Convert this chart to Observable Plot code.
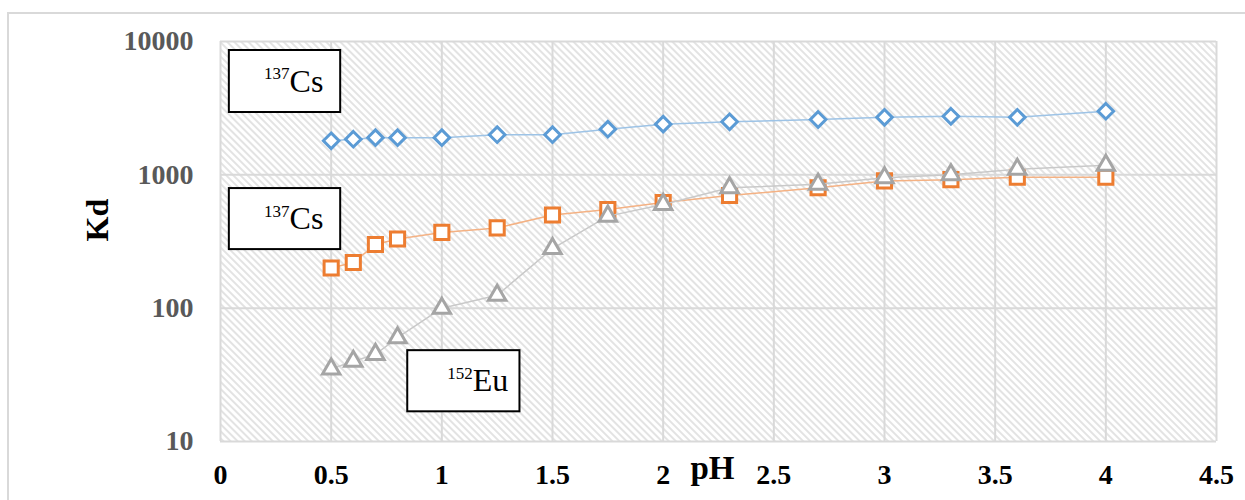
<!DOCTYPE html>
<html>
<head>
<meta charset="utf-8">
<script src="https://cdn.jsdelivr.net/npm/d3@7"></script>
<script src="https://cdn.jsdelivr.net/npm/@observablehq/plot@0.6"></script>
<style>
  body { margin: 0; background: #fff; }
  #wrap { position: relative; width: 1245px; height: 500px; overflow: hidden; }
  #border { position: absolute; left: 7px; top: 12px; width: 1260px; height: 520px; border: 2px solid #d9d9d9; box-sizing: border-box; pointer-events: none; }
</style>
</head>
<body>
<div id="wrap"><div id="border"></div></div>
<script>
// ---- data ----
const pH = [0.5, 0.6, 0.7, 0.8, 1, 1.25, 1.5, 1.75, 2, 2.3, 2.7, 3, 3.3, 3.6, 4];
const csBlue   = [1800, 1850, 1900, 1900, 1900, 2000, 2000, 2200, 2400, 2500, 2600, 2700, 2750, 2700, 3000];
const csOrange = [200, 220, 300, 330, 370, 400, 500, 550, 620, 700, 800, 900, 920, 960, 960];
const eu       = [35, 40, 45, 60, 100, 125, 280, 490, 600, 800, 850, 950, 1000, 1100, 1180];

const xTicks = [0, 0.5, 1, 1.5, 2, 2.5, 3, 3.5, 4, 4.5];
const yTicks = [10, 100, 1000, 10000];

// annotation boxes (data coordinates)
const boxIso  = ["137", "137", "152"];
const boxElem = ["Cs", "Cs", "Eu"];
const boxX1 = [0.04, 0.04, 0.846];
const boxX2 = [0.543, 0.543, 1.353];
const boxY1 = [2934, 275, 16.7];
const boxY2 = [8560, 789, 48];
const boxTx = [0.312, 0.312, 1.14];
const boxTy = [5012, 466, 28.4];

// ---- tables ----
const mk = (vals) => pH.map((x, i) => ({x, y: vals[i]}));
const blue = mk(csBlue), orange = mk(csOrange), gray = mk(eu);
const boxes = boxIso.map((iso, i) => ({iso, el: boxElem[i], x1: boxX1[i], x2: boxX2[i], y1: boxY1[i], y2: boxY2[i], tx: boxTx[i], ty: boxTy[i]}));

const font = "Liberation Serif";

const chart = Plot.plot({
  width: 1245,
  height: 500,
  marginLeft: 220,
  marginRight: 29,
  marginTop: 41,
  marginBottom: 59,
  style: {fontFamily: font, background: "transparent", overflow: "visible"},
  x: {domain: [0, 4.5]},
  y: {type: "log", domain: [10, 10000]},
  marks: [
    Plot.frame({fill: "url(#hatch)", stroke: null}),
    Plot.gridX(xTicks, {stroke: "#d9d9d9", strokeOpacity: 1, strokeWidth: 2}),
    Plot.gridY(yTicks, {stroke: "#d9d9d9", strokeOpacity: 1, strokeWidth: 2}),
    Plot.axisY({ticks: yTicks, tickFormat: d => String(d), tickSize: 0, tickPadding: 27, fontSize: 28, fontWeight: "bold", fill: "#595959", label: null}),
    Plot.axisX({ticks: xTicks, tickFormat: d => String(d), tickSize: 0, tickPadding: 23, fontSize: 28, fontWeight: "bold", fill: "#000", label: null}),
    Plot.text(["pH"], {frameAnchor: "bottom", dx: -6, dy: 37, fontSize: 33, fontWeight: "bold", fill: "#000"}),
    Plot.text(["Kd"], {frameAnchor: "left", rotate: -90, dx: -123, fontSize: 32, fontWeight: "bold", fill: "#000"}),

    Plot.line(blue, {x: "x", y: "y", stroke: "#9dc3e6", strokeWidth: 1.5}),
    Plot.dot(blue, {x: "x", y: "y", symbol: "diamond2", r: 7, stroke: "#5b9bd5", strokeWidth: 3, fill: "#fff"}),
    Plot.line(orange, {x: "x", y: "y", stroke: "#f4b183", strokeWidth: 1.5}),
    Plot.dot(orange, {x: "x", y: "y", symbol: "square2", r: 9, stroke: "#ed7d31", strokeWidth: 3, fill: "#fff"}),
    Plot.line(gray, {x: "x", y: "y", stroke: "#c9c9c9", strokeWidth: 1.5}),
    Plot.dot(gray, {x: "x", y: "y", symbol: "triangle2", r: 8.3, stroke: "#a5a5a5", strokeWidth: 3, fill: "#fff"}),

    Plot.rect(boxes, {x1: "x1", x2: "x2", y1: "y1", y2: "y2", fill: "#fff", stroke: "#000", strokeWidth: 2}),
    Plot.text(boxes, {x: "tx", y: "ty", text: "iso", textAnchor: "end", dy: -8, fontSize: 17, fill: "#000"}),
    Plot.text(boxes, {x: "tx", y: "ty", text: "el", textAnchor: "start", fontSize: 32, fill: "#000"})
  ]
});

const svg = d3.select(chart);
const defs = svg.insert("defs", ":first-child");
const pat = defs.append("pattern")
  .attr("id", "hatch")
  .attr("patternUnits", "userSpaceOnUse")
  .attr("width", 5).attr("height", 5)
  .attr("patternTransform", "rotate(-45)");
pat.append("rect").attr("width", 5).attr("height", 5).attr("fill", "#fff");
pat.append("line").attr("x1", 1).attr("x2", 1).attr("y1", 0).attr("y2", 5)
  .attr("stroke", "#dcdcdc").attr("stroke-width", 1.6);

document.getElementById("wrap").appendChild(chart);
</script>
</body>
</html>
